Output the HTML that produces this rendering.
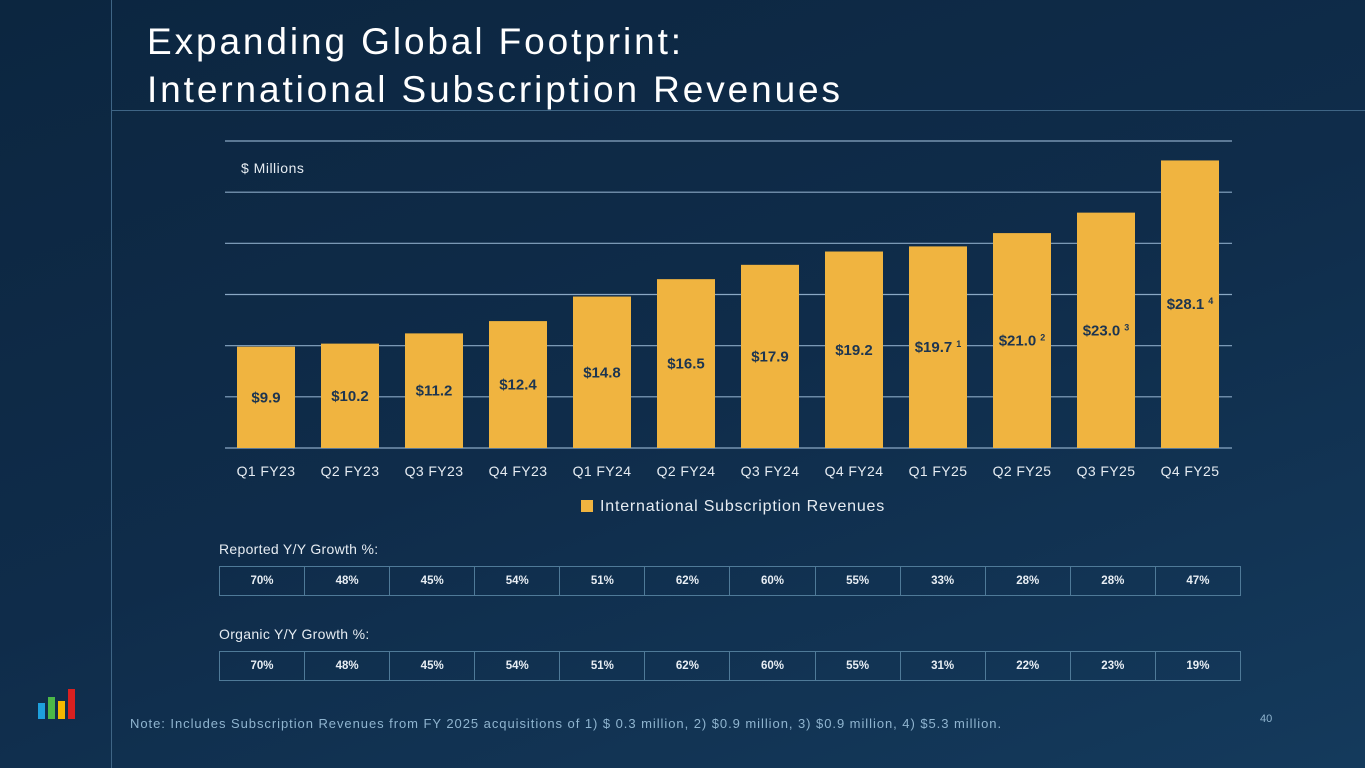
<!DOCTYPE html>
<html><head><meta charset="utf-8"><style>
body{margin:0;width:1365px;height:768px;overflow:hidden;background:linear-gradient(160deg,#0c2640 0%,#0f2c4a 50%,#143a5c 100%);font-family:"Liberation Sans",sans-serif;color:#fff;position:relative}
.abs{position:absolute}
table{border-collapse:collapse;position:absolute;left:219px;width:1022px;table-layout:fixed}
td{border:1px solid #4f7a98;height:28px;text-align:center;font-size:11.5px;font-weight:bold;color:#e8eef4;padding:0}
.lbl{font-size:14px;color:#e6ecf2;letter-spacing:0.3px}
</style></head><body>
<div class="abs" style="left:111px;top:0;width:1px;height:768px;background:#3f6585"></div>
<div class="abs" style="left:111px;top:110px;width:1254px;height:1px;background:#3f6585"></div>
<div class="abs" style="left:147px;top:18px;font-size:37px;line-height:48px;letter-spacing:2.9px">Expanding Global Footprint:<br>International Subscription Revenues</div>
<svg class="abs" style="left:0;top:0" width="1365" height="540">
<g id="grid"></g><g id="bars"></g><g id="xl"></g>
<text x="241" y="173" font-size="14" fill="#e6ecf2" letter-spacing="0.5">$ Millions</text>
<rect x="581" y="500" width="12" height="12" fill="#f0b440"/>
<text x="600" y="511" font-size="16" fill="#e6ecf2" letter-spacing="0.8">International Subscription Revenues</text>
</svg>
<div class="abs lbl" style="left:219px;top:541px">Reported Y/Y Growth %:</div>
<table style="top:566px"><tr id="r1"></tr></table>
<div class="abs lbl" style="left:219px;top:626px">Organic Y/Y Growth %:</div>
<table style="top:651px"><tr id="r2"></tr></table>
<svg class="abs" style="left:38px;top:689px" width="40" height="32">
<rect x="0" y="14" width="7" height="16" fill="#1ea0dc"/><rect x="10" y="8" width="7" height="22" fill="#4cb848"/><rect x="20" y="12" width="7" height="18" fill="#f5b800"/><rect x="30" y="0" width="7" height="30" fill="#d92020"/></svg>
<div class="abs" style="left:130px;top:716px;font-size:13px;color:#8fb4cf;letter-spacing:0.95px">Note: Includes Subscription Revenues from FY 2025 acquisitions of 1) $ 0.3 million, 2) $0.9 million, 3) $0.9 million, 4) $5.3 million.</div>
<div class="abs" style="left:1260px;top:713px;font-size:11px;color:#8fb4cf">40</div>
<script>
const categories=["Q1 FY23","Q2 FY23","Q3 FY23","Q4 FY23","Q1 FY24","Q2 FY24","Q3 FY24","Q4 FY24","Q1 FY25","Q2 FY25","Q3 FY25","Q4 FY25"];
const revenues=[9.9,10.2,11.2,12.4,14.8,16.5,17.9,19.2,19.7,21.0,23.0,28.1];
const footnotes=["","","","","","","","","1","2","3","4"];
const yTicks=[0,5,10,15,20,25,30];
const reported=["70%","48%","45%","54%","51%","62%","60%","55%","33%","28%","28%","47%"];
const organic=["70%","48%","45%","54%","51%","62%","60%","55%","31%","22%","23%","19%"];
const NS="http://www.w3.org/2000/svg";
const y=v=>448-v*(307/30);
const bandX=i=>225+i*84;
function mk(tag,attrs,parent){const e=document.createElementNS(NS,tag);for(const k in attrs)e.setAttribute(k,attrs[k]);parent.appendChild(e);return e;}
const G=document.getElementById('grid'),B=document.getElementById('bars'),X=document.getElementById('xl');
yTicks.forEach(t=>{const l=mk('line',{x1:225,x2:1232,y1:y(t),y2:y(t),stroke:'#8aa8c4','stroke-width':1.2},G);

});
revenues.forEach((v,i)=>{const x=bandX(i)+12;
const r=mk('rect',{x:x,y:y(v),width:58,height:448-y(v),fill:'#f0b440'},B);


const t=mk('text',{x:x+29,y:(y(v)+448)/2+5,'text-anchor':'middle','font-size':15,'font-weight':'bold',fill:'#1d3550'},B);
t.textContent='$'+v.toFixed(1);
if(footnotes[i]){const s=mk('tspan',{'font-size':9,dy:-5,dx:4},t);s.textContent=footnotes[i];}


const c=mk('text',{x:x+29,y:476,'text-anchor':'middle','font-size':14,fill:'#e6ecf2','letter-spacing':0.4},X);
c.textContent=categories[i];

});
function fill(id,arr,name){const tr=document.getElementById(id);arr.forEach(v=>{const td=document.createElement('td');td.textContent=v;


tr.appendChild(td);});}
fill('r1',reported,'reported-growth-cell');fill('r2',organic,'organic-growth-cell');
</script>
</body></html>
